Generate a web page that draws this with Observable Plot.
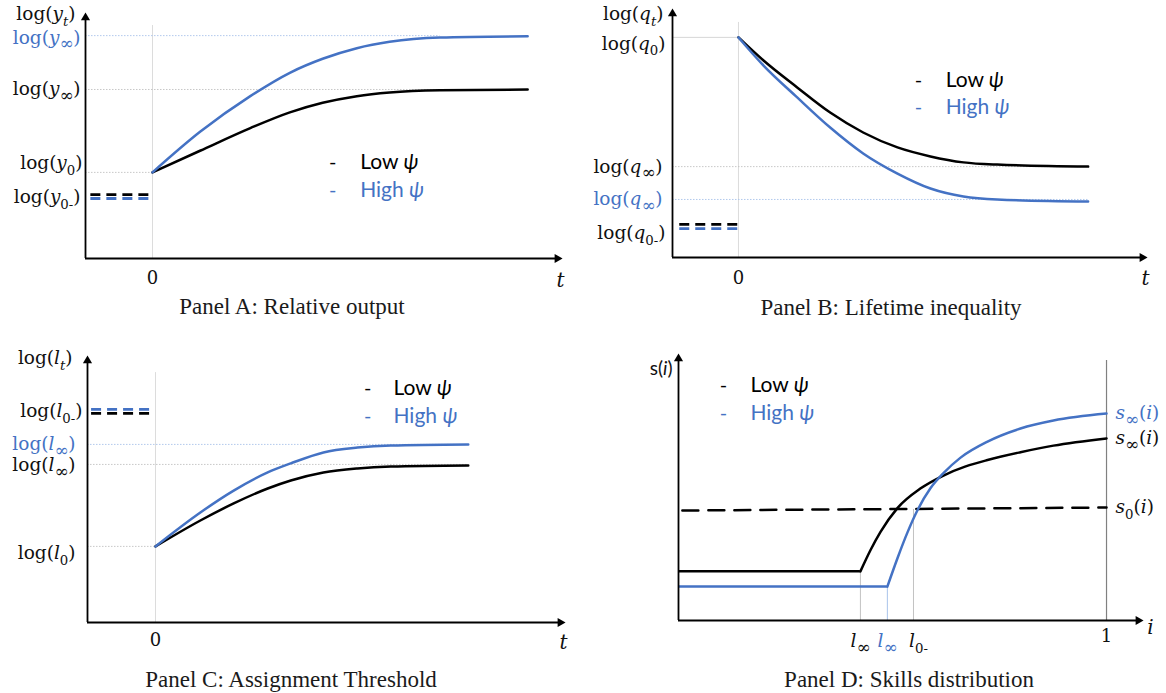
<!DOCTYPE html>
<html>
<head>
<meta charset="utf-8">
<script src="https://cdn.jsdelivr.net/npm/d3@7"></script>
<script src="https://cdn.jsdelivr.net/npm/@observablehq/plot@0.6"></script>
<style>
  body { margin: 0; background: #ffffff; }
  #wrap { position: relative; width: 1166px; height: 693px; overflow: hidden; background: #fff; }
  .cap { position: absolute; font-family: "Liberation Serif", serif; font-size: 23px; color: #1a1a1a;
         transform: translateX(-50%); white-space: nowrap; line-height: 1; }
</style>
</head>
<body>
<div id="wrap"></div>
<script>
// ---------------- DATA ----------------
// Panel A: relative output (t, log y)
const tA = [0, 0.71, 1.46, 2.05, 2.54, 3.05, 3.54, 4.29, 5.6];
const lowA = [35.0, 43.8, 53.0, 59.4, 63.3, 66.0, 67.5, 68.4, 68.7];
const highA = [35.0, 51.5, 66.0, 75.5, 81.2, 85.5, 88.1, 89.8, 90.3];
const yInfHighA = 90.6, yInfLowA = 68.7, y0A = 35.0, y0PreLowA = 26.0, y0PreHighA = 24.4;
const labelsA = ["log(<i>y</i><sub><i>t</i></sub>)", "log(<i>y</i><sub>∞</sub>)", "log(<i>y</i><sub>∞</sub>)",
                 "log(<i>y</i><sub>0</sub>)", "log(<i>y</i><sub>0-</sub>)"];

// Panel B: lifetime inequality (t, log q)
const tB = [0, 0.38, 0.89, 1.39, 1.89, 2.41, 2.91, 3.41, 3.92, 5.3];
const lowB = [88.4, 79.1, 68.3, 58.2, 50.2, 44.2, 40.6, 38.2, 37.3, 36.5];
const highB = [88.4, 77.1, 64.3, 52.2, 41.8, 33.7, 27.7, 24.5, 23.3, 22.5];
const q0B = 88.4, qInfLowB = 36.5, qInfHighB = 23.3, q0PreLowB = 13.3, q0PreHighB = 11.6;
const labelsB = ["log(<i>q</i><sub><i>t</i></sub>)", "log(<i>q</i><sub>0</sub>)", "log(<i>q</i><sub>∞</sub>)",
                 "log(<i>q</i><sub>∞</sub>)", "log(<i>q</i><sub>0-</sub>)"];

// Panel C: assignment threshold (t, log l)
const tC = [0, 0.66, 1.15, 1.65, 1.99, 2.47, 2.97, 3.46, 4.6];
const lowC = [28.5, 38.2, 44.6, 50.2, 53.2, 56.2, 57.7, 58.4, 58.8];
const highC = [28.5, 41.2, 49.4, 56.2, 59.6, 63.7, 65.5, 66.3, 66.7];
const l0C = 28.5, lInfLowC = 59.2, lInfHighC = 66.7, l0PreLowC = 78.3, l0PreHighC = 79.8;
const labelsC = ["log(<i>l</i><sub><i>t</i></sub>)", "log(<i>l</i><sub>0-</sub>)", "log(<i>l</i><sub>∞</sub>)",
                 "log(<i>l</i><sub>∞</sub>)", "log(<i>l</i><sub>0</sub>)"];

// Panel D: skills distribution (i, s(i))
const lInfLowD = 0.425, lInfHighD = 0.488, l0PreD = 0.549;
const sFlatLowD = 18.4, sFlatHighD = 12.7;
const iLowD = [0.425, 0.449, 0.472, 0.512, 0.565, 0.619, 0.671, 0.722, 0.799, 0.876, 1.0];
const sLowD = [18.4, 26.5, 33.2, 42.2, 49.4, 54.3, 57.7, 60.1, 63.0, 65.5, 68.2];
const iHighD = [0.488, 0.512, 0.535, 0.558, 0.589, 0.619, 0.659, 0.722, 0.799, 0.876, 1.0];
const sHighD = [12.7, 23.5, 33.0, 41.2, 49.6, 55.2, 61.0, 67.0, 71.9, 74.9, 77.5];
const iS0D = [0.009, 1.0];
const s0D = [41.2, 42.3];
const labelsD = ["s(<i>i</i>)", "<i>l</i><sub>∞</sub>", "<i>l</i><sub>∞</sub>", "<i>l</i><sub>0-</sub>", "1",
                 "<i>s</i><sub>∞</sub>(<i>i</i>)", "<i>s</i><sub>∞</sub>(<i>i</i>)", "<i>s</i><sub>0</sub>(<i>i</i>)"];

const legendLabels = ["Low <i>ψ</i>", "High <i>ψ</i>"];
const captions = ["Panel A: Relative output", "Panel B: Lifetime inequality",
                  "Panel C: Assignment Threshold", "Panel D: Skills distribution"];

// ---------------- STYLE ----------------
const BLACK = "#000000", BLUE = "#4472C4", GUIDE = "#c2c2c2", GUIDE_BLUE = "#a9c3ea", ZERO = "#dcdcdc";
const SERIF = '"DejaVu Serif", serif', SANS = 'Lato, "Open Sans", sans-serif';
const wrap = document.getElementById("wrap");

const pts = (xs, ys) => xs.map((x, k) => ({x, y: ys[k]}));

function richify(svg) {
  const ns = "http://www.w3.org/2000/svg";
  svg.querySelectorAll("text").forEach(el => {
    const s = el.textContent;
    if (!s.includes("<")) return;
    const fs = parseFloat(getComputedStyle(el).fontSize) || 18;
    el.textContent = "";
    let italic = false, sub = false, shifted = 0, last = 0, m;
    const re = /<(\/?)(i|sub)>/g;
    const push = str => {
      if (!str) return;
      const t = document.createElementNS(ns, "tspan");
      t.textContent = str;
      if (italic) t.setAttribute("font-style", "italic");
      if (sub) t.setAttribute("font-size", (fs * (str.includes("∞") ? 0.9 : 0.72)).toFixed(1));
      const target = sub ? fs * 0.28 : 0;
      const d = target - shifted;
      if (d) t.setAttribute("dy", d.toFixed(2));
      shifted = target;
      el.appendChild(t);
    };
    while ((m = re.exec(s))) {
      push(s.slice(last, m.index));
      if (m[2] === "i") italic = !m[1]; else sub = !m[1];
      last = re.lastIndex;
    }
    push(s.slice(last));
  });
}

function axes(x0, x1) {
  const span = x1 - x0;
  return [
    Plot.ruleX([x0], {y1: 0, y2: 97.5, stroke: BLACK, strokeWidth: 1.8}),
    Plot.ruleY([0], {x1: x0, x2: x1 - span * 0.01, stroke: BLACK, strokeWidth: 1.8}),
    Plot.dot([{x: x0, y: 100}], {x: "x", y: "y", symbol: "triangle", r: 3.4, fill: BLACK, dy: 5.2}),
    Plot.dot([{x: x1, y: 0}], {x: "x", y: "y", symbol: "triangle", r: 3.4, fill: BLACK, rotate: 90, dx: -5.2})
  ];
}

function label(text, x, y, o = {}) {
  return Plot.text([{x, y, text}], {
    x: "x", y: "y", text: "text",
    fontFamily: o.font || SERIF, fontSize: o.size || 18.5, fill: o.fill || "#111",
    textAnchor: o.anchor || "end", dx: o.dx || 0, dy: o.dy || 0, fontStyle: o.style
  });
}

function legend(xDash, xText, yLow, yHigh) {
  return [
    label("-", xDash, yLow, {font: SANS, size: 20, anchor: "middle", fill: BLACK}),
    label(legendLabels[0], xText, yLow, {font: SANS, size: 21, anchor: "start", fill: BLACK}),
    label("-", xDash, yHigh, {font: SANS, size: 20, anchor: "middle", fill: BLUE}),
    label(legendLabels[1], xText, yHigh, {font: SANS, size: 21, anchor: "start", fill: BLUE})
  ];
}

function panel(left, top, m, xd, marks) {
  const svg = Plot.plot({
    width: 583, height: m.h,
    marginLeft: m.l, marginRight: m.r, marginTop: m.t, marginBottom: m.b,
    x: {domain: xd, axis: null},
    y: {domain: [0, 100], axis: null},
    style: {background: "transparent", overflow: "visible"},
    marks
  });
  svg.style.position = "absolute";
  svg.style.left = left + "px";
  svg.style.top = top + "px";
  wrap.appendChild(svg);
  richify(svg);
}

function caption(text, cx, cy) {
  const d = document.createElement("div");
  d.className = "cap";
  d.textContent = text;
  d.style.left = cx + "px";
  d.style.top = (cy - 12) + "px";
  wrap.appendChild(d);
}

const lineOpts = (stroke) => ({x: "x", y: "y", stroke, strokeWidth: 2.5, curve: "monotone-x"});
const guide = (stroke) => ({stroke, strokeWidth: 0.9, strokeDasharray: "1.5,1.5"});

// ---------------- PANEL A ----------------
{
  const x0 = -1, x1 = 6.12;
  panel(0, 0, {h: 300, l: 85, r: 21, t: 12, b: 42}, [x0, x1], [
    Plot.ruleX([0], {y1: 0, y2: 94.7, stroke: ZERO, strokeWidth: 1}),
    Plot.ruleY([yInfHighA], {x1: x0, x2: 4.29, ...guide(GUIDE_BLUE)}),
    Plot.ruleY([yInfLowA], {x1: x0, x2: 4.29, ...guide(GUIDE)}),
    Plot.ruleY([y0A], {x1: x0, x2: 0, ...guide(GUIDE)}),
    Plot.ruleY([y0PreLowA], {x1: -0.92, x2: 0, stroke: BLACK, strokeWidth: 2.8, strokeDasharray: "10,6"}),
    Plot.ruleY([y0PreHighA], {x1: -0.92, x2: 0, stroke: BLUE, strokeWidth: 2.8, strokeDasharray: "10,6"}),
    Plot.line(pts(tA, lowA), lineOpts(BLACK)),
    Plot.line(pts(tA, highA), lineOpts(BLUE)),
    ...axes(x0, x1),
    label(labelsA[0], x0, 100, {dx: -10, dy: 2}),
    label(labelsA[1], x0, yInfHighA, {dx: -5, dy: 2, fill: BLUE}),
    label(labelsA[2], x0, yInfLowA, {dx: -5}),
    label(labelsA[3], x0, y0A, {dx: -3, dy: -9}),
    label(labelsA[4], x0, (y0PreLowA + y0PreHighA) / 2, {dx: -5, dy: 1}),
    label("0", 0, 0, {anchor: "middle", dy: 20, size: 18}),
    label("t", x1, 0, {anchor: "middle", dx: -2, dy: 22, size: 20, style: "italic"}),
    ...legend(2.69, 3.1, 39.0, 27.6)
  ]);
}

// ---------------- PANEL B ----------------
{
  const x0 = -1, x1 = 6.2;
  panel(583, 0, {h: 300, l: 89, r: 19, t: 8, b: 43}, [x0, x1], [
    Plot.ruleX([0], {y1: 0, y2: 94.4, stroke: ZERO, strokeWidth: 1}),
    Plot.ruleY([q0B], {x1: x0, x2: 0, stroke: "#d6d6d6", strokeWidth: 1}),
    Plot.ruleY([qInfLowB], {x1: x0, x2: 5.3, ...guide(GUIDE)}),
    Plot.ruleY([qInfHighB], {x1: x0, x2: 5.3, ...guide(GUIDE_BLUE)}),
    Plot.ruleY([q0PreLowB], {x1: -0.89, x2: 0, stroke: BLACK, strokeWidth: 2.8, strokeDasharray: "10,6"}),
    Plot.ruleY([q0PreHighB], {x1: -0.89, x2: 0, stroke: BLUE, strokeWidth: 2.8, strokeDasharray: "10,6"}),
    Plot.line(pts(tB, lowB), lineOpts(BLACK)),
    Plot.line(pts(tB, highB), lineOpts(BLUE)),
    ...axes(x0, x1),
    label(labelsB[0], x0, 100, {dx: -9, dy: 6}),
    label(labelsB[1], x0, q0B, {dx: -7, dy: 7}),
    label(labelsB[2], x0, qInfLowB, {dx: -10}),
    label(labelsB[3], x0, qInfHighB, {dx: -10, fill: BLUE}),
    label(labelsB[4], x0, (q0PreLowB + q0PreHighB) / 2, {dx: -7, dy: 7}),
    label("0", 0, 0, {anchor: "middle", dy: 21, size: 18}),
    label("t", x1, 0, {anchor: "middle", dx: -2, dy: 21, size: 20, style: "italic"}),
    ...legend(2.73, 3.14, 71.1, 60.2)
  ]);
}

// ---------------- PANEL C ----------------
{
  const x0 = -1, x1 = 6.03;
  panel(0, 340, {h: 320, l: 87, r: 18, t: 15, b: 38}, [x0, x1], [
    Plot.ruleX([0], {y1: 0, y2: 93.6, stroke: ZERO, strokeWidth: 1}),
    Plot.ruleY([lInfHighC], {x1: x0, x2: 4.6, ...guide(GUIDE_BLUE)}),
    Plot.ruleY([lInfLowC], {x1: x0, x2: 4.6, ...guide(GUIDE)}),
    Plot.ruleY([l0C], {x1: x0, x2: 0, ...guide(GUIDE)}),
    Plot.ruleY([l0PreLowC], {x1: -0.94, x2: 0, stroke: BLACK, strokeWidth: 2.8, strokeDasharray: "10,6"}),
    Plot.ruleY([l0PreHighC], {x1: -0.94, x2: 0, stroke: BLUE, strokeWidth: 2.8, strokeDasharray: "10,6"}),
    Plot.line(pts(tC, lowC), lineOpts(BLACK)),
    Plot.line(pts(tC, highC), lineOpts(BLUE)),
    ...axes(x0, x1),
    label(labelsC[0], x0, 100, {dx: -15, dy: 3}),
    label(labelsC[1], x0, (l0PreLowC + l0PreHighC) / 2, {dx: -5}),
    label(labelsC[2], x0, lInfHighC, {dx: -12, fill: BLUE}),
    label(labelsC[3], x0, lInfLowC, {dx: -12, dy: 1}),
    label(labelsC[4], x0, l0C, {dx: -12, dy: 7}),
    label("0", 0, 0, {anchor: "middle", dy: 18, size: 18}),
    label("t", x1, 0, {anchor: "middle", dx: -2, dy: 20, size: 20, style: "italic"}),
    ...legend(3.12, 3.5, 87.6, 77.2)
  ]);
}

// ---------------- PANEL D ----------------
{
  const x0 = 0, x1 = 1.0864;
  panel(583, 340, {h: 320, l: 95, r: 23, t: 13, b: 40}, [x0, x1], [
    Plot.ruleX([1], {y1: 0, y2: 97.4, stroke: "#808080", strokeWidth: 1.2}),
    Plot.ruleX([lInfLowD], {y1: 0, y2: sFlatLowD, stroke: GUIDE, strokeWidth: 1}),
    Plot.ruleX([lInfHighD], {y1: 0, y2: sFlatHighD, stroke: GUIDE_BLUE, strokeWidth: 1}),
    Plot.ruleX([l0PreD], {y1: 0, y2: 41.6, stroke: GUIDE, strokeWidth: 1}),
    Plot.line(pts(iS0D, s0D), {x: "x", y: "y", stroke: BLACK, strokeWidth: 2.5, strokeDasharray: "16,10"}),
    Plot.ruleY([sFlatLowD], {x1: x0, x2: lInfLowD, stroke: BLACK, strokeWidth: 2.5}),
    Plot.ruleY([sFlatHighD], {x1: x0, x2: lInfHighD, stroke: BLUE, strokeWidth: 2.5}),
    Plot.line(pts(iLowD, sLowD), lineOpts(BLACK)),
    Plot.line(pts(iHighD, sHighD), lineOpts(BLUE)),
    ...axes(x0, x1),
    label(labelsD[0], x0, 100, {dx: -6, dy: 15, font: SANS, size: 19}),
    label(labelsD[1], lInfLowD, 0, {anchor: "middle", dy: 21}),
    label(labelsD[2], lInfHighD, 0, {anchor: "middle", dy: 21, fill: BLUE}),
    label(labelsD[3], l0PreD, 0, {anchor: "middle", dx: 5, dy: 21}),
    label(labelsD[4], 1, 0, {anchor: "middle", dy: 16, size: 18}),
    label("i", x1, 0, {anchor: "middle", dx: 7, dy: 7, size: 20, style: "italic"}),
    label(labelsD[5], 1, sHighD[sHighD.length - 1], {anchor: "start", dx: 9, fill: BLUE}),
    label(labelsD[6], 1, sLowD[sLowD.length - 1], {anchor: "start", dx: 9}),
    label(labelsD[7], 1, s0D[1], {anchor: "start", dx: 9}),
    ...legend(0.105, 0.168, 88.0, 77.5)
  ]);
}

caption(captions[0], 292, 307);
caption(captions[1], 891, 308);
caption(captions[2], 291, 680);
caption(captions[3], 909, 680);
</script>
</body>
</html>
